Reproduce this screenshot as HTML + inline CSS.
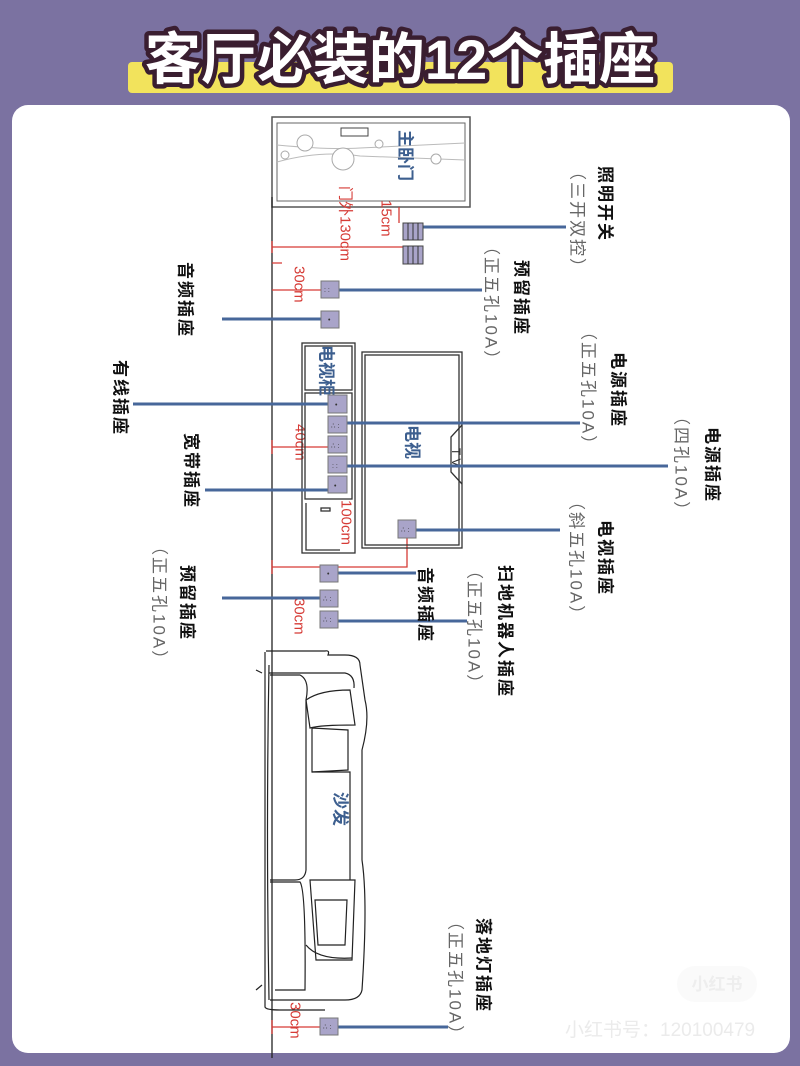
<!DOCTYPE html>
<html><head><meta charset="utf-8"><style>
html,body{margin:0;padding:0;background:#7b72a1;}
svg{display:block}
.lb{font-family:"Liberation Sans","Noto Sans CJK SC",sans-serif;font-weight:bold;font-size:17px;fill:#111;letter-spacing:2px}
.gr{font-family:"Liberation Sans","Noto Sans CJK SC",sans-serif;font-size:17px;fill:#666;letter-spacing:2px}
.rd{font-family:"Liberation Sans","Noto Sans CJK SC",sans-serif;font-size:15px;fill:#d63b36}
.bl{font-family:"Liberation Sans","Noto Sans CJK SC",sans-serif;font-weight:bold;font-size:17px;fill:#3d5f8f}
</style></head><body>
<svg width="800" height="1066" viewBox="0 0 800 1066" xmlns="http://www.w3.org/2000/svg">
<rect x="0" y="0" width="800" height="1066" fill="#7b72a1"/>
<rect x="128" y="62" width="545" height="31" rx="4" fill="#f2e35c"/>
<text x="400" y="79" text-anchor="middle" font-family="Liberation Sans,Noto Sans CJK SC,sans-serif" font-weight="bold" font-size="56" fill="#fff" stroke="#3a1e30" stroke-width="9" stroke-linejoin="round" paint-order="stroke">客厅必装的12个插座</text>
<rect x="12" y="105" width="778" height="948" rx="16" fill="#fff"/>

<!-- door -->
<rect x="272" y="117" width="198" height="90" fill="none" stroke="#555" stroke-width="1.5"/>
<rect x="277" y="123" width="188" height="78" fill="none" stroke="#666" stroke-width="1"/>
<rect x="341" y="128" width="27" height="8" fill="none" stroke="#444"/>
<path d="M277 145 Q330 150 360 148 L465 143 M277 162 Q320 150 360 156 Q410 158 465 160" fill="none" stroke="#bbb"/>
<circle cx="305" cy="143" r="8" fill="#fff" stroke="#aaa"/><circle cx="343" cy="159" r="11" fill="#fff" stroke="#aaa"/>
<circle cx="285" cy="155" r="4" fill="#fff" stroke="#aaa"/><circle cx="379" cy="144" r="4" fill="#fff" stroke="#aaa"/>
<circle cx="436" cy="159" r="5" fill="#fff" stroke="#aaa"/>
<text class="bl" transform="translate(405,130) rotate(90)" dominant-baseline="central">主卧门</text>
<!-- wall -->
<line x1="272" y1="197" x2="272" y2="1058" stroke="#222" stroke-width="1.3"/>
<!-- red dims -->
<g stroke="#d63b36" stroke-width="1.3" fill="none">
<path d="M272 247 H403 M272 241 V253"/>
<path d="M399 207 V223"/>
<path d="M272 263 H282 M272 290 H321"/>
<path d="M272 447 H330 M272 440 V454 M272 404 H280 M272 490 H280"/>
<path d="M272 567 H407 V538 M272 598 H320 M272 560 V574"/>
<path d="M272 1027 H320 M272 1020 V1034"/>
</g>
<text class="rd" transform="translate(345,186) rotate(90)" dominant-baseline="central">门外130cm</text>
<text class="rd" transform="translate(386,200) rotate(90)" dominant-baseline="central">15cm</text>
<text class="rd" transform="translate(299,266) rotate(90)" dominant-baseline="central" font-size="17">30cm</text>
<text class="rd" transform="translate(300,424) rotate(90)" dominant-baseline="central" font-size="17">40cm</text>
<text class="rd" transform="translate(346,500) rotate(90)" dominant-baseline="central" font-size="17">100cm</text>
<text class="rd" transform="translate(299,598) rotate(90)" dominant-baseline="central" font-size="17">30cm</text>
<text class="rd" transform="translate(295,1002) rotate(90)" dominant-baseline="central" font-size="17">30cm</text>

<!-- TV cabinet -->
<g fill="none" stroke="#333" stroke-width="1.3">
<rect x="302" y="343" width="53" height="210"/>
<rect x="305" y="346" width="47" height="44"/>
<rect x="305" y="393" width="47" height="106"/>
<path d="M306 503 V550 H340"/>
<rect x="321" y="508" width="9" height="3"/>
<rect x="362" y="352" width="100" height="196"/>
<rect x="365" y="355" width="94" height="190"/>
<path d="M462 425 L451 437 V472 L462 484"/>
</g>
<text class="bl" transform="translate(326,345) rotate(90)" dominant-baseline="central">电视柜</text>
<text class="bl" transform="translate(412,425) rotate(90)" dominant-baseline="central">电视</text>
<text transform="translate(456,448) rotate(90)" dominant-baseline="central" font-family="Liberation Sans" font-size="12" fill="#333">T V</text>

<!-- blue lines -->
<g stroke="#47679a" stroke-width="3" fill="none">
<path d="M423 227 H566"/>
<path d="M339 290 H482"/>
<path d="M222 319 H321"/>
<path d="M133 404 H328"/>
<path d="M347 423 H580"/>
<path d="M347 466 H668"/>
<path d="M205 490 H328"/>
<path d="M416 530 H560"/>
<path d="M338 573 H416"/>
<path d="M222 598 H320"/>
<path d="M338 621 H467"/>
<path d="M338 1027 H448"/>
</g>
<!-- switches -->
<g fill="#a9a4c9" stroke="#444">
<rect x="403" y="223" width="20" height="17"/><rect x="403" y="246" width="20" height="18"/>
</g>
<path d="M408 223 V240 M413 223 V240 M418 223 V240 M408 246 V264 M413 246 V264 M418 246 V264" stroke="#333"/>
<!-- outlets -->
<g fill="#a9a4c9" stroke="#777" stroke-width="1">
<rect x="321" y="281" width="18" height="17"/>
<rect x="321" y="311" width="18" height="17"/>
<rect x="328" y="395" width="19" height="18"/>
<rect x="328" y="416" width="19" height="17"/>
<rect x="328" y="436" width="19" height="17"/>
<rect x="328" y="456" width="19" height="17"/>
<rect x="328" y="476" width="19" height="17"/>
<rect x="398" y="520" width="18" height="18"/>
<rect x="320" y="565" width="18" height="17"/>
<rect x="320" y="590" width="18" height="17"/>
<rect x="320" y="611" width="18" height="17"/>
<rect x="320" y="1018" width="18" height="17"/>
</g>
<g fill="#333" font-family="Liberation Sans" font-size="7">
<text x="324" y="292">: :</text><text x="328" y="322">•</text>
<text x="335" y="407">•</text><text x="331" y="428">∴ :</text><text x="331" y="448">∴ :</text>
<text x="332" y="468">: :</text><text x="334" y="488">•</text><text x="401" y="532">∴ :</text>
<text x="327" y="576">•</text><text x="323" y="601">∴ :</text><text x="323" y="622">∴ :</text><text x="323" y="1029">∴ :</text>
</g>

<!-- sofa -->
<g fill="none" stroke="#222" stroke-width="1.2">
<path d="M266 651 H325 Q330 650 328 655 H345 Q360 655 360 665 L365 700 Q370 720 362 750 V860 Q368 900 362 990 Q360 1000 345 1000 H270"/>
<path d="M269 665 Q266 830 269 1000"/>
<path d="M265 652 V1007 Q266 1010 280 1010 H325"/>
<path d="M269 673 H345 Q355 675 354 688"/>
<path d="M270 675 H300 Q310 680 306 700 V870 Q305 880 295 880 H270"/>
<path d="M270 882 H300 Q306 890 305 990 H275"/>
<path d="M306 700 Q320 690 350 690 L355 725 Q320 725 310 728 Z"/>
<path d="M312 728 L348 730 V770 L312 772 Z"/>
<path d="M312 772 H350 V880"/>
<path d="M310 880 H355 L352 960 H316 Z"/>
<path d="M315 900 L347 900 L345 945 L318 945 Z"/>
<path d="M306 945 Q318 960 352 958"/>
<path d="M262 673 L256 670 M262 985 L256 990"/>
</g>
<text class="bl" transform="translate(340,792) rotate(90)" dominant-baseline="central">沙发</text>

<!-- labels -->
<g dominant-baseline="central">
<text class="lb" transform="translate(605,166) rotate(90)">照明开关</text>
<text class="gr" transform="translate(577,163) rotate(90)">（三开双控）</text>
<text class="lb" transform="translate(521,260) rotate(90)">预留插座</text>
<text class="gr" transform="translate(491,238) rotate(90)">（正五孔10A）</text>
<text class="lb" transform="translate(618,352) rotate(90)">电源插座</text>
<text class="gr" transform="translate(588,323) rotate(90)">（正五孔10A）</text>
<text class="lb" transform="translate(712,427) rotate(90)">电源插座</text>
<text class="gr" transform="translate(681,408) rotate(90)">（四孔10A）</text>
<text class="lb" transform="translate(605,520) rotate(90)">电视插座</text>
<text class="gr" transform="translate(576,493) rotate(90)">（斜五孔10A）</text>
<text class="lb" transform="translate(505,565) rotate(90)">扫地机器人插座</text>
<text class="gr" transform="translate(474,562) rotate(90)">（正五孔10A）</text>
<text class="lb" transform="translate(425,567) rotate(90)">音频插座</text>
<text class="lb" transform="translate(483,918) rotate(90)">落地灯插座</text>
<text class="gr" transform="translate(455,913) rotate(90)">（正五孔10A）</text>
<text class="lb" transform="translate(185,262) rotate(90)">音频插座</text>
<text class="lb" transform="translate(120,360) rotate(90)">有线插座</text>
<text class="lb" transform="translate(191,433) rotate(90)">宽带插座</text>
<text class="lb" transform="translate(187,565) rotate(90)">预留插座</text>
<text class="gr" transform="translate(159,538) rotate(90)">（正五孔10A）</text>
</g>
<rect x="677" y="966" width="80" height="36" rx="18" fill="#fafafa"/>
<text x="717" y="990" text-anchor="middle" font-family="Liberation Sans,Noto Sans CJK SC,sans-serif" font-weight="bold" font-size="17" fill="#eee">小红书</text>
<text x="565" y="1036" font-family="Liberation Sans,Noto Sans CJK SC,sans-serif" font-size="19" fill="#ebebeb">小红书号：120100479</text>
</svg>
</body></html>
